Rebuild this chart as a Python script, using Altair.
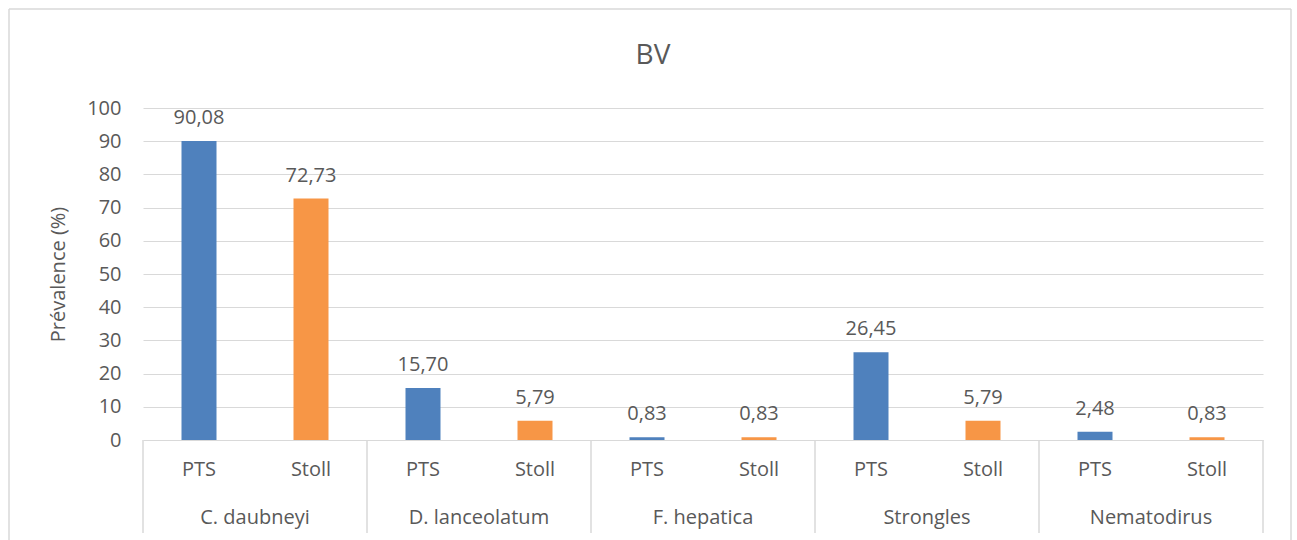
import altair as alt
import pandas as pd

groups = ["C. daubneyi", "D. lanceolatum", "F. hepatica", "Strongles", "Nematodirus"]
methods = ["PTS", "Stoll"]
pts = [90.08, 15.70, 0.83, 26.45, 2.48]
stoll = [72.73, 5.79, 0.83, 5.79, 0.83]
title = "BV"
y_title = "Prévalence (%)"
y_ticks = [0, 10, 20, 30, 40, 50, 60, 70, 80, 90, 100]

rows = []
for i, g in enumerate(groups):
    for j, (m, v) in enumerate(zip(methods, [pts[i], stoll[i]])):
        rows.append({"group": g, "method": m, "value": v, "pos": 2 * i + j + 0.5})
df = pd.DataFrame(rows)
gdf = pd.DataFrame({"group": groups, "pos": [2 * i + 1 for i in range(len(groups))]})
sdf = pd.DataFrame({"pos": [2 * i for i in range(len(groups) + 1)]})
one = pd.DataFrame({"a": [0]})

W, H = 1120, 332
FONT = "Open Sans"
TXT = "#595959"
GRID = "#d9d9d9"
FS = 20

xs = alt.Scale(domain=[0, 10], nice=False, zero=False, padding=0)
ys = alt.Scale(domain=[0, 100], nice=False)
yaxis = alt.Axis(values=y_ticks, title=y_title, grid=True, tickCount=11,
                 gridColor=GRID, domain=False, ticks=False, labelPadding=22,
                 labelOverlap=False, labelFontSize=FS, labelColor=TXT,
                 labelFont=FONT, titleFontSize=FS, titleFontWeight="normal",
                 titleColor=TXT, titleFont=FONT, titlePadding=18)

# chart-area frame: top, left and right edges (bottom is below the visible page)
b_top = alt.Chart(one).mark_rule(color=GRID, strokeWidth=1.5).encode(
    x=alt.value(-134), x2=alt.value(1148), y=alt.value(-99))
b_left = alt.Chart(one).mark_rule(color=GRID, strokeWidth=1.5).encode(
    x=alt.value(-134), y=alt.value(-99), y2=alt.value(432))
b_right = alt.Chart(one).mark_rule(color=GRID, strokeWidth=1.5).encode(
    x=alt.value(1148), y=alt.value(-99), y2=alt.value(432))

bars = alt.Chart(df).mark_bar(size=35).encode(
    x=alt.X("pos:Q", scale=xs, axis=None),
    y=alt.Y("value:Q", scale=ys, axis=yaxis),
    color=alt.Color("method:N", scale=alt.Scale(domain=methods, range=["#4f81bd", "#f79646"]),
                    legend=None),
)

labels = alt.Chart(df).transform_calculate(
    lab="replace(format(datum.value, '.2f'), '.', ',')"
).mark_text(font=FONT, fontSize=FS, color=TXT, baseline="bottom", dy=-13).encode(
    x=alt.X("pos:Q", scale=xs, axis=None), y=alt.Y("value:Q", scale=ys, axis=yaxis), text="lab:N"
)

seps = alt.Chart(sdf).mark_rule(color=GRID, strokeWidth=1.5).encode(
    x=alt.X("pos:Q", scale=xs, axis=None), y=alt.value(H), y2=alt.value(H + 93)
)

mlabels = alt.Chart(df).mark_text(font=FONT, fontSize=FS, color=TXT, baseline="middle").encode(
    x=alt.X("pos:Q", scale=xs, axis=None), y=alt.value(H + 30), text="method:N"
)

glabels = alt.Chart(gdf).mark_text(font=FONT, fontSize=FS, color=TXT, baseline="middle").encode(
    x=alt.X("pos:Q", scale=xs, axis=None), y=alt.value(H + 78), text="group:N"
)

ttl = alt.Chart(one).mark_text(font=FONT, fontSize=28, color=TXT, baseline="middle").encode(
    x=alt.value(510), y=alt.value(-52), text=alt.value(title)
)

chart = alt.layer(b_top, b_left, b_right, bars, labels, seps, mlabels, glabels, ttl).properties(
    width=W, height=H, padding={"left": 8, "top": 8, "right": 0, "bottom": 0}
).configure_view(stroke=None)

chart.save("out.html", embed_options={"renderer": "svg", "actions": False})
